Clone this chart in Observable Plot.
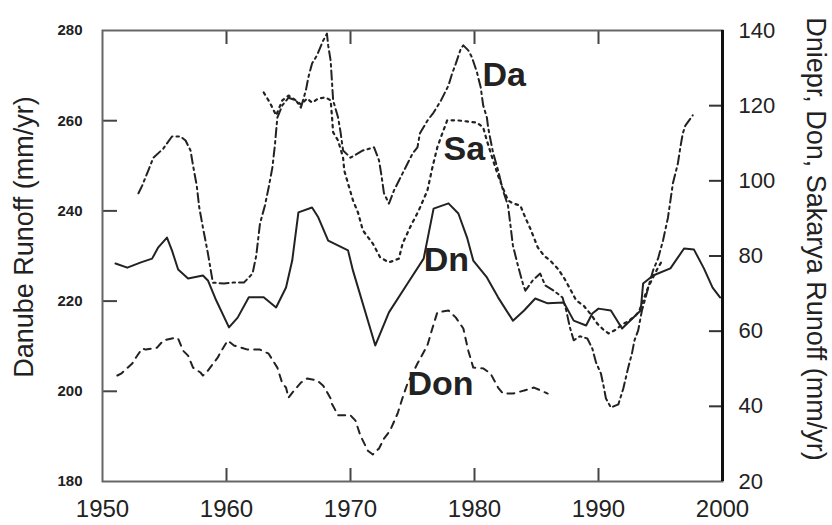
<!DOCTYPE html>
<html>
<head>
<meta charset="utf-8">
<script src="https://cdn.jsdelivr.net/npm/d3@7"></script>
<script src="https://cdn.jsdelivr.net/npm/@observablehq/plot@0.6"></script>
<style>
  html, body { margin: 0; padding: 0; background: #fff; }
  #chart { width: 832px; height: 525px; }
</style>
</head>
<body>
<div id="chart"></div>
<script>
// ---------- data ----------
const xDomain = [1950, 2000];
const leftDomain = [180, 280];   // Danube runoff (mm/yr)
const rightDomain = [20, 140];   // Dniepr, Don, Sakarya runoff (mm/yr)

const xTickLabels = [1950, 1960, 1970, 1980, 1990, 2000];
const xInnerTicks = [1960, 1970, 1980, 1990];
const leftTickLabels = [180, 200, 220, 240, 260, 280];
const leftInnerTicks = [200, 220, 240, 260];
const rightTickLabels = [20, 40, 60, 80, 100, 120, 140];
const rightInnerTicks = [40, 60, 80, 100, 120];

// Da (left axis, mm/yr)
const daYears = [1952.9,1953.2,1953.7,1954.1,1954.9,1955.6,1956.3,1956.7,1957.1,1957.3,1957.6,1957.8,1958.1,1958.5,1958.9,1959.8,1960.5,1961.4,1962.1,1962.4,1962.7,1963.1,1963.4,1963.7,1963.9,1964.1,1964.5,1965.0,1965.6,1966.0,1966.4,1966.6,1966.9,1967.3,1967.8,1968.1,1968.2,1968.4,1968.5,1968.6,1969.0,1969.2,1969.4,1970.0,1971.0,1971.9,1972.3,1972.5,1972.7,1973.1,1973.5,1973.9,1974.4,1975.0,1975.4,1975.6,1976.2,1976.7,1977.3,1977.9,1978.2,1978.5,1978.9,1979.1,1979.5,1979.8,1980.2,1980.5,1980.7,1981.0,1981.1,1981.3,1981.5,1981.9,1982.3,1982.7,1982.9,1983.1,1983.5,1983.9,1984.1,1984.7,1985.3,1985.7,1986.4,1987.1,1987.4,1987.7,1988.0,1988.5,1989.1,1989.5,1989.8,1990.2,1990.4,1990.6,1991.0,1991.6,1992.0,1992.4,1992.7,1992.9,1993.2,1993.5,1993.8,1994.1,1994.4,1994.8,1995.2,1995.6,1995.8,1996.0,1996.4,1996.6,1996.8,1997.0,1997.6];
const daValues = [243.9,245.6,249.0,251.8,253.8,256.5,256.5,255.6,253.4,250.1,245.6,240.8,236.3,230.6,224.1,223.9,224.1,224.1,226.1,230.1,237.2,241.2,245.2,249.6,254.5,260.7,263.4,265.1,264.5,262.9,266.7,269.6,272.7,274.5,277.8,279.3,276.7,273.3,268.9,264.5,260.7,257.4,253.4,251.8,253.4,254.1,251.2,247.8,243.9,241.6,244.5,246.7,249.4,252.7,254.1,257.2,260.0,261.8,264.5,267.8,270.5,272.7,276.0,276.7,275.6,274.0,270.7,267.4,263.4,260.7,258.5,255.6,252.9,249.0,244.5,241.2,236.8,232.3,227.9,223.9,222.3,224.6,226.1,223.5,222.3,220.8,217.9,214.1,211.3,212.2,211.7,209.5,206.4,203.9,201.3,198.4,196.4,197.1,200.6,205.3,208.4,211.3,213.5,217.9,220.8,223.9,226.8,229.4,233.4,238.5,242.3,246.1,250.5,254.1,257.2,258.9,261.2];

// Sa (right axis, mm/yr)
const saYears = [1963.0,1963.5,1964.0,1964.5,1965.0,1965.6,1966.0,1966.5,1966.9,1967.4,1968.0,1968.4,1968.5,1968.6,1969.0,1969.4,1969.5,1969.8,1970.2,1970.6,1971.0,1971.8,1972.4,1973.1,1973.9,1974.2,1974.8,1975.5,1976.2,1976.6,1977.0,1977.4,1977.8,1978.6,1979.4,1980.2,1980.7,1981.0,1981.5,1981.9,1982.3,1982.7,1983.1,1983.7,1984.1,1984.5,1985.1,1985.6,1986.1,1986.7,1987.2,1987.7,1988.2,1988.8,1989.4,1989.9,1990.4,1990.8,1991.4,1991.9,1992.4,1993.0,1993.3,1993.6,1994.0,1994.4,1994.8,1995.2];
const saValues = [123.5,120.8,117.4,121.4,122.7,121.4,120.3,121.9,120.8,121.9,122.2,121.4,117.4,112.9,110.7,106.2,102.7,99.3,94.8,91.6,86.8,83.3,79.6,78.3,79.3,83.3,87.6,92.1,97.4,103.5,108.9,112.6,116.1,116.1,115.8,115.5,114.2,110.7,105.4,101.4,98.0,94.8,94.0,93.4,90.2,87.3,82.3,80.1,78.8,76.7,74.3,71.3,68.2,66.8,64.4,62.0,60.4,59.4,60.4,61.8,62.6,64.2,65.5,68.2,71.6,74.3,76.9,79.1];

// Dn (right axis, mm/yr)
const dnYears = [1951.05,1952.0,1953.1,1954.0,1954.5,1955.2,1955.6,1956.1,1956.9,1958.1,1958.5,1959.1,1960.2,1960.9,1961.8,1963.0,1964.0,1964.8,1965.3,1965.8,1966.9,1967.4,1968.2,1969.8,1970.2,1972.0,1973.1,1974.6,1975.9,1976.7,1977.9,1978.7,1979.4,1979.9,1981.0,1981.9,1983.1,1984.0,1984.9,1985.9,1987.2,1988.0,1989.0,1989.5,1990.0,1991.0,1991.9,1992.4,1993.4,1993.6,1994.4,1995.8,1996.9,1997.7,1998.5,1999.2,1999.8];
const dnValues = [78.0,76.9,78.3,79.3,82.3,84.9,81.5,76.4,74.0,74.8,73.5,68.7,61.0,63.6,69.0,69.0,66.3,71.6,78.8,91.6,92.9,90.3,84.1,81.5,76.1,56.2,65.0,72.7,79.3,92.6,94.0,91.3,84.9,78.8,74.3,69.0,62.8,65.5,68.7,67.4,67.6,62.8,61.5,64.7,66.0,65.5,60.7,62.3,65.5,72.7,74.8,76.7,82.0,81.7,76.7,71.6,69.0];

// Don (right axis, mm/yr)
const donYears = [1951.2,1951.5,1952.4,1952.7,1953.2,1953.5,1954.4,1954.9,1955.9,1956.1,1956.5,1956.9,1957.3,1957.9,1958.1,1958.5,1959.3,1959.5,1960.1,1960.6,1961.7,1962.7,1963.4,1964.1,1964.5,1964.8,1965.0,1965.3,1966.0,1966.5,1967.3,1967.8,1968.4,1968.5,1969.0,1970.0,1970.4,1970.8,1971.4,1971.8,1972.3,1972.7,1973.2,1973.8,1974.2,1974.6,1975.4,1976.2,1976.6,1977.0,1977.9,1978.5,1979.1,1979.5,1979.9,1980.7,1981.3,1981.9,1982.3,1983.1,1984.0,1984.8,1985.9];
const donValues = [48.2,48.7,51.4,53.0,55.4,55.1,55.6,57.5,58.3,58.0,54.8,53.5,50.3,49.0,48.2,49.5,53.0,54.3,57.5,56.2,55.1,55.1,54.0,50.3,46.1,45.0,42.3,43.6,46.3,47.4,46.9,45.5,42.1,40.7,37.6,37.6,36.2,32.2,28.2,27.2,28.8,31.4,33.6,38.1,42.3,46.1,51.4,56.2,60.7,65.0,65.5,63.6,60.7,54.8,50.3,50.1,48.7,45.0,43.4,43.4,44.2,45.0,43.4];

// series labels (position in left-axis units)
const labelNames = ["Da", "Sa", "Dn", "Don"];
const labelYears = [1980.65, 1977.5, 1975.9, 1974.6];
const labelLeftValues = [270, 253.8, 229, 201.7];

// ---------- helpers ----------
const k = (leftDomain[1] - leftDomain[0]) / (rightDomain[1] - rightDomain[0]);
const toLeft = r => leftDomain[0] + (r - rightDomain[0]) * k;
const toRight = l => rightDomain[0] + (l - leftDomain[0]) / k;
const zip = (xs, vs) => xs.map((x, i) => ({year: x, v: vs[i]}));

const da = zip(daYears, daValues);
const sa = zip(saYears, saValues);
const dn = zip(dnYears, dnValues);
const don = zip(donYears, donValues);
const labels = labelNames.map((t, i) => ({t, year: labelYears[i], v: labelLeftValues[i]}));

const ink = "#222";

const chart = Plot.plot({
  width: 832,
  height: 525,
  marginLeft: 102,
  marginRight: 110,
  marginTop: 30,
  marginBottom: 44,
  style: {fontFamily: "'Liberation Sans', Arial, Helvetica, sans-serif", color: ink, background: "#fff", overflow: "visible"},
  x: {domain: xDomain},
  y: {domain: leftDomain},
  marks: [
    // axes: labels
    Plot.axisX(xTickLabels, {anchor: "bottom", tickSize: 0, tickPadding: 18, fontSize: 24, tickFormat: d => String(d), label: null}),
    Plot.axisX(xInnerTicks, {anchor: "bottom", tickSize: 13, dy: -13, strokeWidth: 2, stroke: "#444", tickFormat: () => "", label: null}),
    Plot.axisX(xInnerTicks, {anchor: "top", tickSize: 13, dy: 13, strokeWidth: 2, stroke: "#444", tickFormat: () => "", label: null}),
    Plot.axisY(leftTickLabels, {anchor: "left", tickSize: 0, tickPadding: 20, fontSize: 15, fontWeight: "bold", label: null}),
    Plot.axisY(leftInnerTicks, {anchor: "left", tickSize: 15, dx: 15, strokeWidth: 2, stroke: "#444", tickFormat: () => "", label: null}),
    Plot.axisY(rightTickLabels.map(toLeft), {anchor: "right", tickSize: 0, tickPadding: 16, fontSize: 22, tickFormat: d => String(Math.round(toRight(d))), label: null}),
    Plot.axisY(rightInnerTicks.map(toLeft), {anchor: "right", tickSize: 14, dx: -14, strokeWidth: 2, stroke: "#333", tickFormat: () => "", label: null}),
    // frame
    Plot.frame({stroke: "#666", strokeWidth: 2}),
    Plot.ruleX([xDomain[1]], {stroke: "#111", strokeWidth: 3}),
    // axis titles
    Plot.text(["Danube Runoff (mm/yr)"], {frameAnchor: "left", rotate: -90, textAnchor: "middle", dx: -78, dy: -19, fontSize: 27, fill: ink}),
    Plot.text(["Dniepr, Don, Sakarya Runoff (mm/yr)"], {frameAnchor: "right", rotate: 90, textAnchor: "middle", dx: 93, dy: -17, fontSize: 27, fill: ink}),
    // series
    Plot.line(dn, {x: "year", y: d => toLeft(d.v), stroke: ink, strokeWidth: 2}),
    Plot.line(don, {x: "year", y: d => toLeft(d.v), stroke: ink, strokeWidth: 2, strokeDasharray: "7,6"}),
    Plot.line(sa, {x: "year", y: d => toLeft(d.v), stroke: ink, strokeWidth: 2.2, strokeDasharray: "2.5,4.5"}),
    Plot.line(da, {x: "year", y: "v", stroke: ink, strokeWidth: 2, strokeDasharray: "9,4,2.5,4"}),
    // series labels
    Plot.text(labels, {x: "year", y: "v", text: "t", textAnchor: "start", fontSize: 34, fontWeight: "bold", fill: ink})
  ]
});
document.getElementById("chart").append(chart);
</script>
</body>
</html>
